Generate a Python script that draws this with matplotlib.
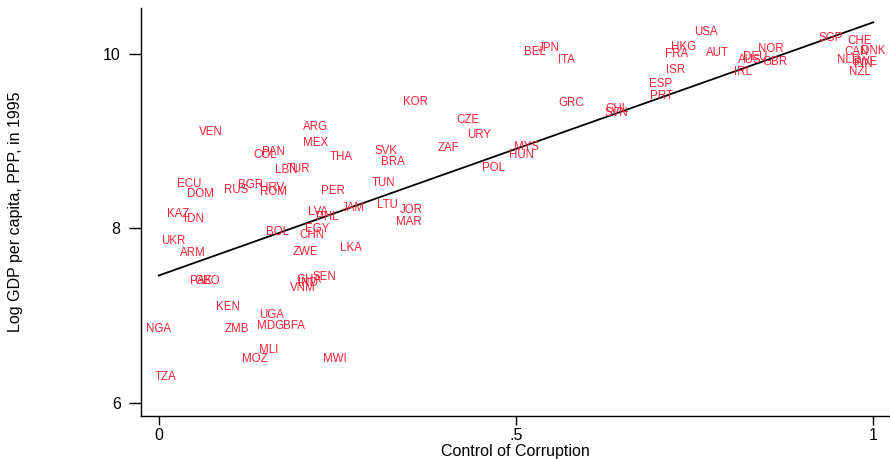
import matplotlib
matplotlib.use("Agg")
import matplotlib.pyplot as plt
import numpy as np

plt.rcParams['font.family'] = ['Liberation Sans', 'DejaVu Sans']

countries = ["VEN","ARG","MEX","PAN","COL","THA","LBN","TUR","ECU","DOM","RUS","BGR","HRV","ROM","PER",
             "KAZ","IDN","LVA","PHL","JAM","BOL","EGY","CHN","UKR","ARM","ZWE","LKA","PAK","GEO","GHA",
             "SEN","IND","VNM","KEN","UGA","MDG","BFA","NGA","ZMB","MLI","MOZ","MWI","TZA","KOR","CZE",
             "URY","ZAF","SVK","BRA","MYS","HUN","POL","TUN","LTU","JOR","MAR","BEL","JPN","ITA","USA",
             "HKG","FRA","AUT","ISR","ESP","PRT","GRC","CHL","SVN","SGP","CHE","DNK","CAN","NLD","SWE",
             "FIN","NZL","NOR","DEU","AUS","GBR","IRL"]

corruption = [0.073,0.220,0.219,0.160,0.149,0.256,0.179,0.195,0.043,0.058,0.108,0.128,0.158,0.160,0.244,
              0.027,0.049,0.223,0.236,0.272,0.167,0.222,0.215,0.020,0.048,0.205,0.269,0.059,0.068,0.210,
              0.232,0.209,0.201,0.097,0.158,0.156,0.189,0.000,0.110,0.154,0.135,0.246,0.009,0.360,0.433,
              0.448,0.405,0.318,0.328,0.515,0.508,0.468,0.315,0.320,0.354,0.350,0.526,0.546,0.570,0.766,
              0.735,0.725,0.782,0.724,0.703,0.704,0.577,0.642,0.641,0.941,0.981,1.000,0.976,0.966,0.988,
              0.986,0.982,0.856,0.835,0.827,0.863,0.818]

log_gdp = [9.105,9.166,8.979,8.873,8.845,8.815,8.673,8.678,8.506,8.398,8.444,8.494,8.460,8.421,8.432,
           8.165,8.108,8.192,8.134,8.230,7.962,7.993,7.924,7.856,7.718,7.733,7.775,7.393,7.400,7.408,
           7.443,7.370,7.320,7.099,7.003,6.877,6.881,6.846,6.846,6.606,6.502,6.502,6.296,9.450,9.243,
           9.068,8.925,8.888,8.765,8.937,8.842,8.689,8.517,8.268,8.214,8.077,10.026,10.072,9.931,10.252,
           10.084,9.997,10.011,9.817,9.653,9.518,9.438,9.373,9.327,10.180,10.153,10.034,10.019,9.931,9.912,
           9.882,9.797,10.057,9.969,9.931,9.912,9.797]

fit_intercept = 7.459
fit_slope = 2.904

x_ticks = [0, 0.5, 1]
x_ticklabels = ["0", ".5", "1"]
y_ticks = [6, 8, 10]
y_ticklabels = ["6", "8", "10"]

fig = plt.figure(figsize=(8.9, 4.59), dpi=100)
ax = fig.add_axes([0.1581, 0.0937, 0.8419, 0.8889])

for c, x, y in zip(countries, corruption, log_gdp):
    ax.text(x, y, c, color='#ff2035', fontsize=8.3, ha='center', va='center')

xs = np.array([min(corruption), max(corruption)])
ax.plot(xs, fit_intercept + fit_slope * xs, color='black', lw=1.3)

ax.set_xlim(-0.0252, 1.0234)
ax.set_ylim(5.848, 10.527)
ax.set_xticks(x_ticks)
ax.set_xticklabels(x_ticklabels)
ax.set_yticks(y_ticks)
ax.set_yticklabels(y_ticklabels)
ax.spines['top'].set_visible(False)
ax.spines['right'].set_visible(False)
for s in ['left', 'bottom']:
    ax.spines[s].set_linewidth(1.0)
ax.tick_params(axis='x', length=6.5, width=1.0, labelsize=11.5, pad=2)
ax.tick_params(axis='y', length=8.4, width=1.0, labelsize=11.5, pad=6)
ax.set_xlabel("Control of Corruption", fontsize=11.5, labelpad=1)
ax.set_ylabel("Log GDP per capita, PPP, in 1995", fontsize=11.5)
ax.yaxis.set_label_coords(-0.157, 0.5)

fig.savefig("out.png", dpi=100)
